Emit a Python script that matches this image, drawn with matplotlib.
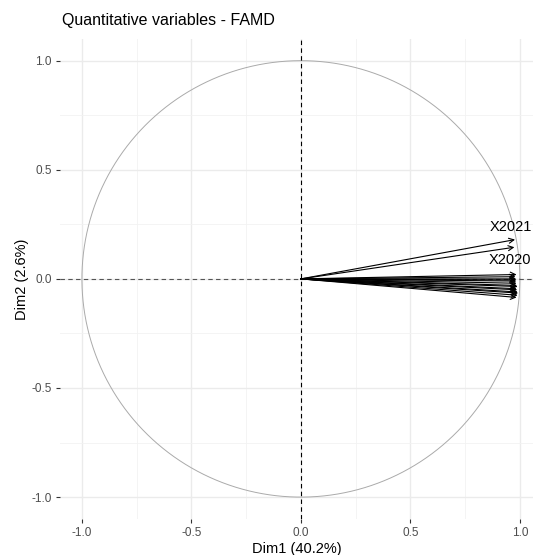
import numpy as np
import matplotlib.pyplot as plt

plt.rcParams['font.family'] = ['Liberation Sans', 'DejaVu Sans']

# coordinates of quantitative variables on Dim1 / Dim2
var_names = ['X2006', 'X2007', 'X2008', 'X2009', 'X2010', 'X2011', 'X2012',
             'X2013', 'X2014', 'X2015', 'X2016', 'X2017', 'X2018', 'X2019',
             'X2020', 'X2021']
dim1 = [0.985, 0.99, 0.992, 0.99, 0.988, 0.985, 0.99, 0.987,
        0.985, 0.984, 0.982, 0.983, 0.98, 0.985, 0.975, 0.978]
dim2 = [-0.085, -0.075, -0.065, -0.06, -0.05, -0.045, -0.035, -0.03,
        -0.02, -0.01, -0.005, 0.0, 0.01, 0.02, 0.145, 0.18]
# label placement offsets (repelled labels)
label_dy = {'X2020': -0.06, 'X2021': 0.06}
dim_pct = [40.2, 2.6]

fig = plt.figure(figsize=(5.33, 5.55), dpi=100)
ax = fig.add_axes([0.1126, 0.065, 0.8874, 0.865])

ax.set_xlim(-1.1, 1.06)
ax.set_ylim(-1.1, 1.1)

# grid (theme_minimal look)
ax.set_xticks([-1, -0.5, 0, 0.5, 1])
ax.set_yticks([-1, -0.5, 0, 0.5, 1])
ax.set_xticks([-0.75, -0.25, 0.25, 0.75], minor=True)
ax.set_yticks([-0.75, -0.25, 0.25, 0.75], minor=True)
ax.grid(True, which='major', color='#EBEBEB', lw=1.0)
ax.grid(True, which='minor', color='#F2F2F2', lw=0.6)
ax.set_axisbelow(True)
for s in ax.spines.values():
    s.set_visible(False)
ax.tick_params(which='minor', length=0)
ax.tick_params(which='major', length=3, width=0.8, color='#333333',
               labelsize=8.5, labelcolor='#4D4D4D', pad=3)
ax.set_xticklabels(['-1.0', '-0.5', '0.0', '0.5', '1.0'])
ax.set_yticklabels(['-1.0', '-0.5', '0.0', '0.5', '1.0'])

# correlation circle
t = np.linspace(0, 2 * np.pi, 400)
ax.plot(np.cos(t), np.sin(t), color='#AAAAAA', lw=0.7)

ax.axhline(0, color='#555555', ls='--', lw=0.8, dashes=(4, 3))
ax.axvline(0, color='black', ls='--', lw=0.8, dashes=(4, 3))

for name, x, y in zip(var_names, dim1, dim2):
    ax.annotate('', xy=(x, y), xytext=(0, 0),
                arrowprops=dict(arrowstyle='->', color='black', lw=0.8,
                                shrinkA=0, shrinkB=0, mutation_scale=9))
    if name in label_dy:
        ax.text(x - 0.02, y + label_dy[name], name, ha='center', va='center',
                fontsize=10.5, color='black')

ax.set_xlabel('Dim1 (%.1f%%)' % dim_pct[0], fontsize=10.5, labelpad=2)
ax.set_ylabel('Dim2 (%.1f%%)' % dim_pct[1], fontsize=10.5, labelpad=2)
ax.set_title('Quantitative variables - FAMD', loc='left', fontsize=11.5,
             x=0.005, pad=10)

fig.savefig('out.png', dpi=100)
